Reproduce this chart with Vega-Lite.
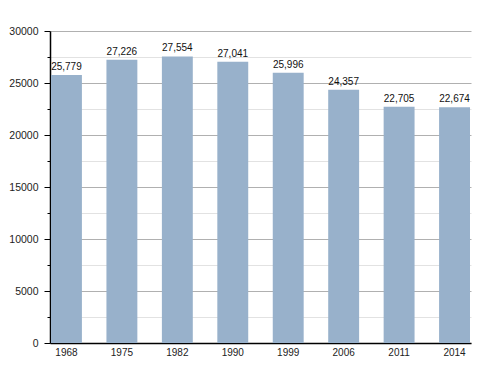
{
  "$schema": "https://vega.github.io/schema/vega-lite/v6.json",
  "width": 421,
  "height": 312,
  "autosize": {"type": "none"},
  "padding": {"left": 50, "top": 31, "right": 29, "bottom": 30},
  "background": "white",
  "view": {"stroke": "white", "strokeOpacity": 0, "strokeWidth": 0},
  "config": {
    "view": {"stroke": "white", "strokeOpacity": 0, "strokeWidth": 0},
    "style": {"cell": {"stroke": "white", "strokeOpacity": 0, "strokeWidth": 0}},
    "font": "Liberation Sans",
    "axis": {"labelFont": "Liberation Sans", "labelColor": "#222", "domainColor": "#000", "tickColor": "#000"}
  },
  "data": {
    "values": [
      {"year": "1968", "pop": 25779},
      {"year": "1975", "pop": 27226},
      {"year": "1982", "pop": 27554},
      {"year": "1990", "pop": 27041},
      {"year": "1999", "pop": 25996},
      {"year": "2006", "pop": 24357},
      {"year": "2011", "pop": 22705},
      {"year": "2014", "pop": 22674}
    ]
  },
  "encoding": {
    "x": {
      "field": "year", "type": "ordinal",
      "scale": {"paddingInner": 0.4424, "paddingOuter": 0.018},
      "axis": {"title": null, "labelAngle": 0, "ticks": false, "grid": false, "labelPadding": 4, "labelFontSize": 10, "domainWidth": 1.5}
    },
    "y": {
      "field": "pop", "type": "quantitative",
      "scale": {"domain": [0, 30000], "nice": false},
      "axis": {
        "title": null,
        "values": [0, 2500, 5000, 7500, 10000, 12500, 15000, 17500, 20000, 22500, 25000, 27500, 30000],
        "format": "d",
        "labelExpr": "datum.value % 5000 === 0 ? datum.label : ''",
        "labelOverlap": false,
        "labelFontSize": 10.5,
        "grid": true,
        "gridColor": {"condition": {"test": "datum.value % 5000 === 0", "value": "#b0b0b0"}, "value": "#e2e2e2"},
        "tickSize": {"condition": {"test": "datum.value % 5000 === 0", "value": 6}, "value": 3},
        "labelPadding": 6,
        "domainWidth": 1.5
      }
    }
  },
  "layer": [
    {
      "mark": {"type": "bar", "color": "#98b1cb"}
    },
    {
      "mark": {"type": "text", "baseline": "alphabetic", "dy": -5, "fontSize": 10, "color": "#111"},
      "encoding": {
        "text": {"field": "pop", "type": "quantitative", "format": ","}
      }
    }
  ]
}
